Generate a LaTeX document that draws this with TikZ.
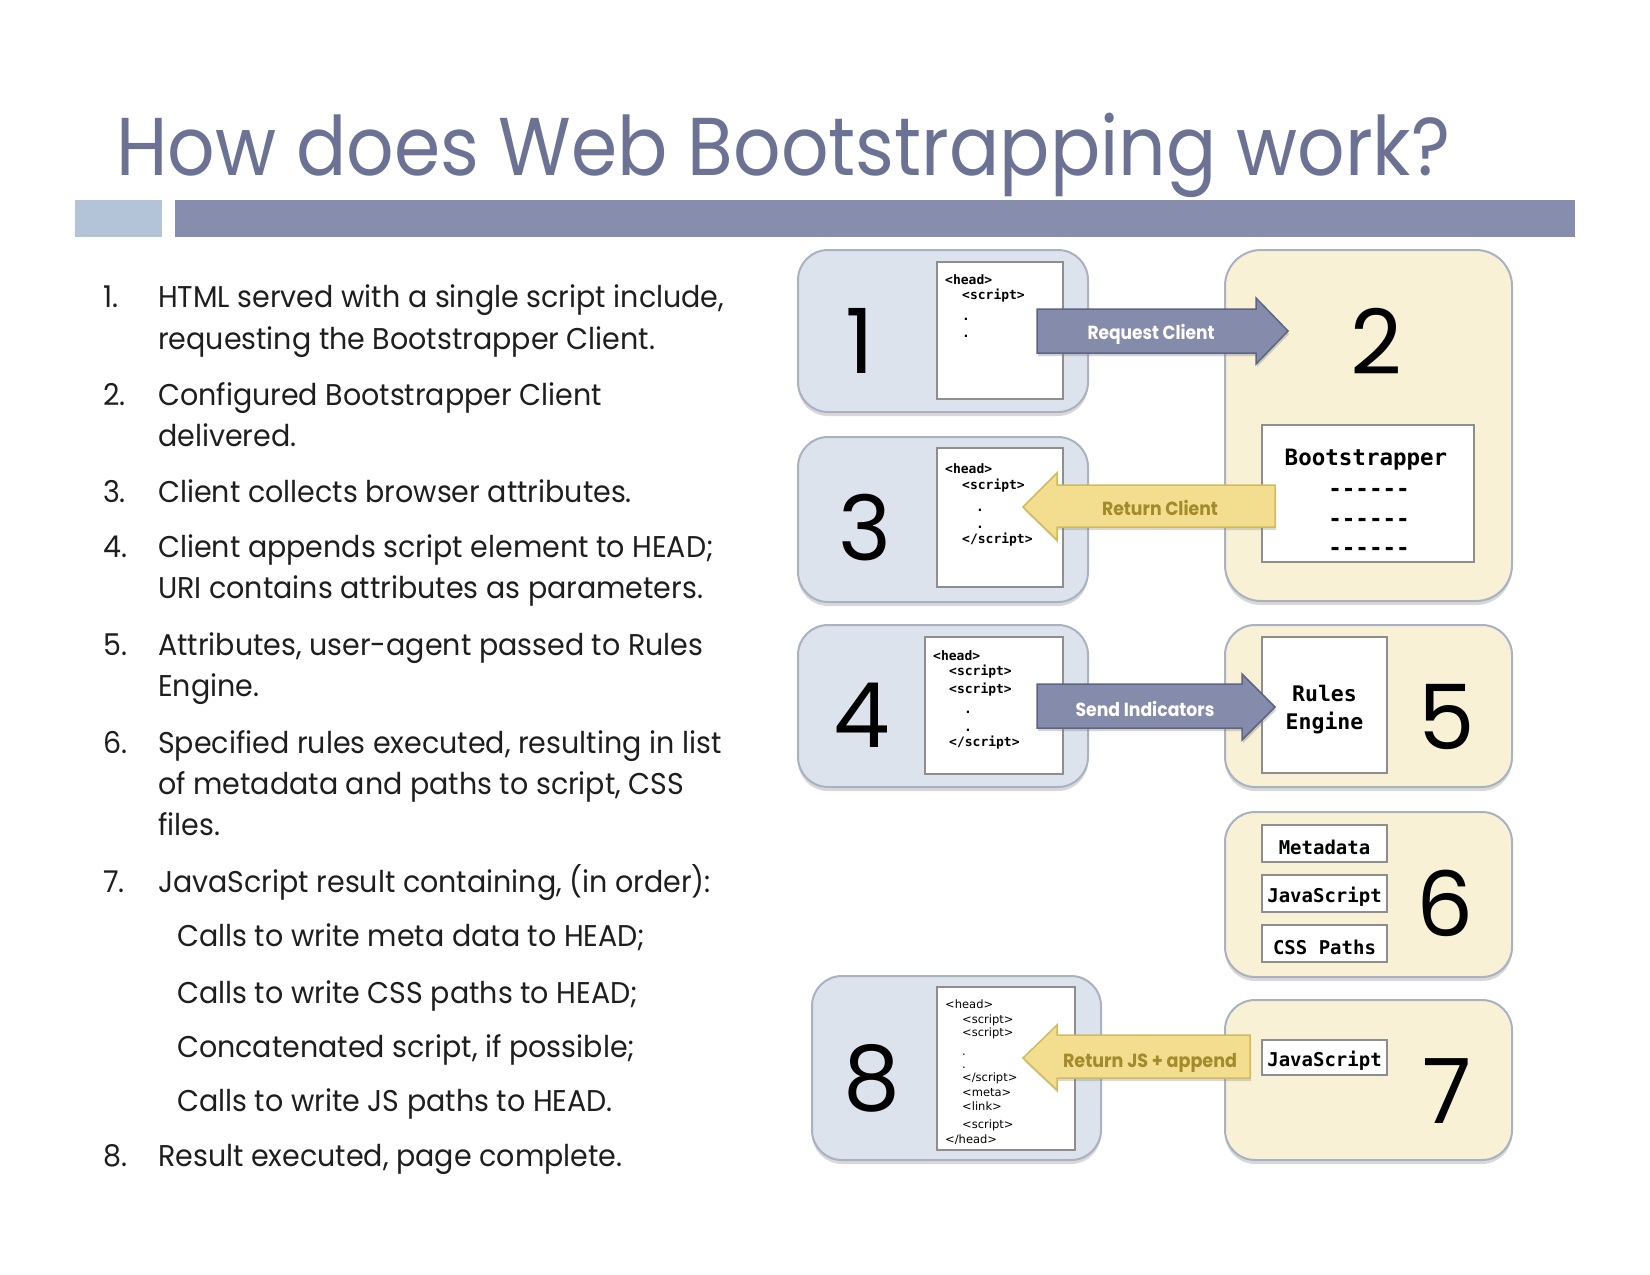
\documentclass[tikz,border=0pt]{standalone}
\usepackage{fontspec}
\usepackage{graphicx}
\usetikzlibrary{shadows}
\setmainfont{Poppins}
\newfontfamily\pop{Poppins}
\newfontfamily\codef[Ligatures=TeXOff]{DejaVu Sans Mono}
\newfontfamily\codeg[Ligatures=TeXOff]{DejaVu Sans}
\definecolor{titlec}{HTML}{6B7293}
\definecolor{barlight}{HTML}{B4C4D8}
\definecolor{bardark}{HTML}{878DAD}
\definecolor{bluefill}{HTML}{DCE3EC}
\definecolor{yelfill}{HTML}{F9F1D6}
\definecolor{boxline}{HTML}{A9B2C2}
\definecolor{barrowfill}{HTML}{858BAA}
\definecolor{barrowline}{HTML}{5D6484}
\definecolor{yarrowfill}{HTML}{F2DE8E}
\definecolor{yarrowline}{HTML}{D2BB5E}
\definecolor{yarrowtext}{HTML}{A38A2B}
\definecolor{textc}{HTML}{1E1E1E}
\definecolor{innerline}{HTML}{8E8E8E}
\newsavebox\fitbox
\newdimen\fitdim
\newcommand\fitto[2]{\sbox\fitbox{#2}\fitdim=\wd\fitbox\pgfmathsetmacro\fitr{#1/\fitdim}\scalebox{\fitr}[1]{\usebox\fitbox}}
\newcommand\lsc[1]{\scalebox{\lr}[1]{#1}}
\tikzset{
  listtxt/.style={anchor=mid west, inner sep=0, font=\fontsize{30}{36}\selectfont\pop, text=textc},
  bluebox/.style={draw=boxline, line width=2pt, fill=bluefill, rounded corners=30pt, inner sep=0,
    drop shadow={shadow xshift=0pt, shadow yshift=-4pt, opacity=0.3}},
  yelbox/.style={draw=boxline, line width=2pt, fill=yelfill, rounded corners=30pt, inner sep=0,
    drop shadow={shadow xshift=0pt, shadow yshift=-4pt, opacity=0.3}},
  inner/.style={draw=innerline, line width=1.2pt, fill=white, inner sep=0},
  digit/.style={inner sep=0, font=\fontsize{90}{90}\selectfont\pop, text=black},
  codeA/.style={anchor=mid west, inner sep=0, font=\fontsize{13}{15}\selectfont\codef\bfseries},
  codeAdot/.style={anchor=base west, inner sep=0, font=\fontsize{13}{15}\selectfont\codef\bfseries},
  codeB/.style={anchor=mid west, inner sep=0, font=\fontsize{11.5}{13}\selectfont\codeg},
  codeBdot/.style={anchor=base west, inner sep=0, font=\fontsize{11.5}{13}\selectfont\codeg},
  bigcode/.style={inner sep=0, font=\fontsize{22.5}{25}\selectfont\codef\bfseries},
  medcode/.style={inner sep=0, font=\fontsize{19}{22}\selectfont\codef\bfseries},
  barrow/.style={fill=barrowfill, draw=barrowline, line width=1.5pt,
    drop shadow={shadow xshift=1pt, shadow yshift=-3pt, opacity=0.35}},
  yarrow/.style={fill=yarrowfill, draw=yarrowline, line width=1.5pt,
    drop shadow={shadow xshift=1pt, shadow yshift=-3pt, opacity=0.3}},
  barrowtxt/.style={anchor=mid, inner sep=0, text=white, font=\fontsize{19}{22}\selectfont\pop\bfseries},
  yarrowtxt/.style={anchor=mid, inner sep=0, text=yarrowtext, font=\fontsize{19}{22}\selectfont\pop\bfseries}
}
\begin{document}
\sbox\fitbox{\fontsize{30}{36}\selectfont\pop HTML served with a single script include,}\fitdim=\wd\fitbox\pgfmathsetmacro\lr{566/\fitdim}%
\begin{tikzpicture}[x=1pt,y=-1pt]
\useasboundingbox[fill=white] (0,0) rectangle (1650,1275);
% title
\node[anchor=base west, inner sep=0, text=titlec, font=\fontsize{82}{90}\selectfont\pop] (title) at (116,175)
  {\fitto{1334}{How does Web Bootstrapping work?}};
\fill[barlight] (75,200) rectangle (162,237);
\fill[bardark] (175,200) rectangle (1575,237);
% list
\node[listtxt] (n1) at (103,305) {\lsc{1.}};
\node[listtxt] (t1a) at (158,305) {\lsc{HTML served with a single script include,}};
\node[listtxt] (t1b) at (158,347) {\lsc{requesting the Bootstrapper Client.}};
\node[listtxt] (n2) at (103,403) {\lsc{2.}};
\node[listtxt] (t2a) at (158,403) {\lsc{Configured Bootstrapper Client}};
\node[listtxt] (t2b) at (158,444) {\lsc{delivered.}};
\node[listtxt] (n3) at (103,500) {\lsc{3.}};
\node[listtxt] (t3a) at (158,500) {\lsc{Client collects browser attributes.}};
\node[listtxt] (n4) at (103,555) {\lsc{4.}};
\node[listtxt] (t4a) at (158,555) {\lsc{Client appends script element to HEAD;}};
\node[listtxt] (t4b) at (158,596) {\lsc{URI contains attributes as parameters.}};
\node[listtxt] (n5) at (103,653) {\lsc{5.}};
\node[listtxt] (t5a) at (158,653) {\lsc{Attributes, user-agent passed to Rules}};
\node[listtxt] (t5b) at (158,694) {\lsc{Engine.}};
\node[listtxt] (n6) at (103,751) {\lsc{6.}};
\node[listtxt] (t6a) at (158,751) {\lsc{Specified rules executed, resulting in list}};
\node[listtxt] (t6b) at (158,792) {\lsc{of metadata and paths to script, CSS}};
\node[listtxt] (t6c) at (158,833) {\lsc{files.}};
\node[listtxt] (n7) at (103,890) {\lsc{7.}};
\node[listtxt] (t7a) at (158,890) {\lsc{JavaScript result containing, (in order):}};
\node[listtxt] (s1) at (177,944) {\lsc{Calls to write meta data to HEAD;}};
\node[listtxt] (s2) at (177,1001) {\lsc{Calls to write CSS paths to HEAD;}};
\node[listtxt] (s3) at (177,1055) {\lsc{Concatenated script, if possible;}};
\node[listtxt] (s4) at (177,1109) {\lsc{Calls to write JS paths to HEAD.}};
\node[listtxt] (n8) at (103,1164) {\lsc{8.}};
\node[listtxt] (t8a) at (158,1164) {\lsc{Result executed, page complete.}};
% outer boxes
\node[bluebox, minimum width=290pt, minimum height=162pt] (b1) at (943,331) {};
\node[bluebox, minimum width=290pt, minimum height=165pt] (b3) at (943,519.5) {};
\node[bluebox, minimum width=290pt, minimum height=162pt] (b4) at (943,706) {};
\node[bluebox, minimum width=289pt, minimum height=184pt] (b8) at (956.5,1068) {};
\node[yelbox, rounded corners=36pt, minimum width=287pt, minimum height=351pt] (b2) at (1368.5,425.5) {};
\node[yelbox, minimum width=287pt, minimum height=162pt] (b5) at (1368.5,706) {};
\node[yelbox, minimum width=287pt, minimum height=165pt] (b6) at (1368.5,894.5) {};
\node[yelbox, minimum width=287pt, minimum height=160pt] (b7) at (1368.5,1080) {};
% inner boxes
\node[inner, minimum width=126pt, minimum height=137pt] (i1) at (1000,330.5) {};
\node[inner, minimum width=126pt, minimum height=139pt] (i3) at (1000,517.5) {};
\node[inner, minimum width=138pt, minimum height=137pt] (i4) at (994,705.5) {};
\node[inner, minimum width=138pt, minimum height=163pt] (i8) at (1006,1068.5) {};
\node[inner, minimum width=212pt, minimum height=137pt] (i2) at (1368,493.5) {};
\node[inner, minimum width=125pt, minimum height=136pt] (i5) at (1324.5,705) {};
\node[inner, minimum width=125pt, minimum height=37pt] (i6a) at (1324.5,843.5) {};
\node[inner, minimum width=125pt, minimum height=37pt] (i6b) at (1324.5,893.5) {};
\node[inner, minimum width=125pt, minimum height=37pt] (i6c) at (1324.5,943.5) {};
\node[inner, minimum width=125pt, minimum height=35pt] (i7) at (1324.5,1057.5) {};
% digits
\node[digit] (d1) at (860,341) {1};
\node[digit] (d3) at (865,528) {3};
\node[digit] (d4) at (862,715) {4};
\node[digit] (d8) at (872,1078) {8};
\node[digit] (d2) at (1376,341) {2};
\node[digit] (d5) at (1447,717) {5};
\node[digit] (d6) at (1445,903) {6};
\node[digit] (d7) at (1447,1091) {7};
% code box 1
\node[codeA] (c1a) at (945,282) {<head>};
\node[codeA] (c1b) at (962,297) {<script>};
\node[codeAdot] (c1c) at (962,320) {.};
\node[codeAdot] (c1d) at (962,337) {.};
% code box 3
\node[codeA] (c3a) at (945,471) {<head>};
\node[codeA] (c3b) at (962,487) {<script>};
\node[codeAdot] (c3c) at (976,511) {.};
\node[codeAdot] (c3d) at (976,528) {.};
\node[codeA] (c3e) at (962,541) {</script>};
% code box 4
\node[codeA] (c4a) at (933,658) {<head>};
\node[codeA] (c4b) at (949,673) {<script>};
\node[codeA] (c4c) at (949,691) {<script>};
\node[codeAdot] (c4d) at (964,713) {.};
\node[codeAdot] (c4e) at (964,731) {.};
\node[codeA] (c4f) at (949,744) {</script>};
% code box 8
\node[codeB] (c8a) at (945,1006) {<head>};
\node[codeB] (c8b) at (962,1021) {<script>};
\node[codeB] (c8c) at (962,1034) {<script>};
\node[codeBdot] (c8d) at (962,1055) {.};
\node[codeBdot] (c8e) at (962,1068) {.};
\node[codeB] (c8f) at (962,1079) {</script>};
\node[codeB] (c8g) at (962,1094) {<meta>};
\node[codeB] (c8h) at (962,1108) {<link>};
\node[codeB] (c8i) at (962,1126) {<script>};
\node[codeB] (c8j) at (945,1141) {</head>};
% bootstrapper
\node[bigcode] (bs) at (1366,460) {Bootstrapper};
\node[bigcode] (bs1) at (1369,492) {------};
\node[bigcode] (bs2) at (1369,522) {------};
\node[bigcode] (bs3) at (1369,551) {------};
\node[bigcode, align=center, font=\fontsize{21.5}{28}\selectfont\codef\bfseries] (re) at (1324.5,710) {Rules\\Engine};
\node[medcode] (m1) at (1324.5,847) {Metadata};
\node[medcode] (m2) at (1324.5,897) {JavaScript};
\node[medcode] (m3) at (1324.5,947) {CSS Paths};
\node[medcode] (m4) at (1324.5,1061) {JavaScript};
% arrows
\draw[barrow] (1037,309) -- (1256,309) -- (1256,298) -- (1288,331) -- (1256,364) -- (1256,353) -- (1037,353) -- cycle;
\node[barrowtxt] (a1) at (1151,337) {\fitto{127}{Request Client}};
\draw[yarrow] (1275,485) -- (1057,485) -- (1057,473) -- (1023,507) -- (1057,540) -- (1057,527) -- (1275,527) -- cycle;
\node[yarrowtxt] (a2) at (1160,513) {\fitto{116}{Return Client}};
\draw[barrow] (1037,684) -- (1242,684) -- (1242,674) -- (1275,707) -- (1242,740) -- (1242,728) -- (1037,728) -- cycle;
\node[barrowtxt] (a3) at (1145,714) {\fitto{139}{Send Indicators}};
\draw[yarrow] (1250,1035) -- (1057,1035) -- (1057,1025) -- (1023,1058) -- (1057,1090) -- (1057,1078) -- (1250,1078) -- cycle;
\node[yarrowtxt] (a4) at (1150,1065) {\fitto{174}{Return JS + append}};
\end{tikzpicture}
\end{document}
